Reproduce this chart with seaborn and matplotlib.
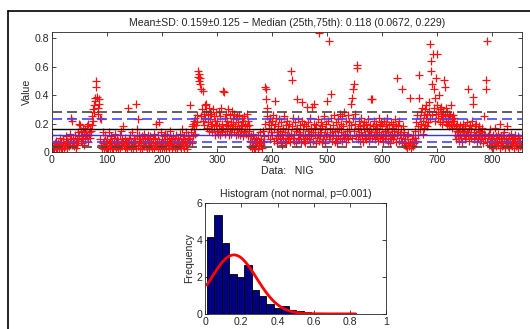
import numpy as np
import pandas as pd
import matplotlib
matplotlib.use("Agg")
import matplotlib.pyplot as plt
import seaborn as sns
from matplotlib.ticker import FuncFormatter

# values, in hundredths, 10 per row (index 0..855)
seg_a = [12,4,3,5,2,6,4,3,8,5, 3,6,2,4,10,5,3,7,4,2, 6,9,3,5,4,11,6,3,8,5,
         7,4,13,6,9,24,22,5,8,10, 4,7,12,3,6,9,5,14,8,11,
         20,19,8,15,12,6,17,10,14,5, 9,16,13,18,11,7,20,14,12,16,
         10,15,25,19,30,22,33,28,36,38, 50,46,39,31,27,37,34,24,9,23,
         5,3,14,6,2,8,4,12,3,7]
seg_b = [4,9,2,6,14,3,8,5,11,3, 7,2,10,5,4,13,6,3,9,4, 2,8,5,12,3,6,15,4,9,7,
         18,5,3,10,6,4,8,2,31,6, 9,4,12,3,7,5,14,6,2,10,
         5,8,3,34,11,16,4,23,7,12, 3,9,6,2,11,5,8,4,13,7, 10,4,2,9,6,12,3,8,5,11,
         4,7,2,10,6,3,13,5,9,4, 20,7,12,3,8,21,5,2,14,6]
seg_c = [9,4,6,11,3,8,13,5,2,7, 12,4,9,3,6,15,5,10,2,8, 4,11,7,3,9,5,12,6,2,10,
         5,8,13,4,7,3,16,6,9,4, 11,3,8,5,14,6,2,9,12,7,
         10,33,8,14,6,18,11,20,16,22, 13,24,19,26,21,53,57,55,50,52,
         48,25,44,30,22,43,27,19,33,24, 34,29,17,26,21,31,15,28,23,18,
         27,20,14,30,25,16,22,12,28,19]
seg_d = [15,22,13,28,18,12,25,16,31,20, 14,43,17,42,24,13,19,27,15,22,
         30,18,12,26,16,21,13,29,17,24, 20,14,27,18,12,23,16,25,13,21,
         17,26,12,19,15,24,18,11,22,14,
         25,16,20,13,27,18,11,22,15,19, 8,4,11,3,7,13,5,2,9,6,
         3,10,5,8,2,12,6,4,14,7, 5,9,3,15,7,11,8,20,46,44,
         37,25,31,12,21,17,9,24,14,19]
seg_e = [22,12,26,8,16,20,36,10,24,14, 6,18,11,23,9,15,7,21,13,5,
         17,10,25,8,14,19,6,12,22,9, 16,11,20,7,13,57,51,18,10,24,
         12,8,21,15,6,37,17,10,23,14,
         9,19,13,7,22,35,11,16,8,20, 12,6,18,32,10,15,21,9,13,24,
         7,17,11,32,14,8,20,34,12,16, 6,19,10,23,13,84,8,17,11,21,
         14,7,18,9,25,12,16,6,20,11]
seg_f = [36,13,22,9,78,17,11,24,41,14, 8,19,12,26,7,15,21,10,16,6,
         23,11,17,27,9,14,20,8,25,12, 18,10,28,13,7,22,15,11,26,9,
         16,21,12,34,19,38,10,44,24,48,
         15,27,20,11,61,59,17,9,22,13, 18,8,14,24,11,19,7,16,21,10,
         13,20,9,17,12,23,8,15,19,11, 37,14,10,37,18,12,22,9,16,13,
         20,11,17,8,24,14,10,19,12,21]
seg_g = [10,18,13,7,22,15,9,20,11,16, 24,8,14,19,12,6,21,10,17,13,
         9,20,15,11,23,7,18,12,52,14, 19,8,22,13,10,16,6,44,12,18,
         7,14,5,9,4,11,3,6,13,5,
         4,7,38,3,9,5,12,4,8,6, 10,15,21,8,26,18,12,54,38,24,
         16,28,20,31,13,22,26,17,30,19, 24,33,18,27,21,35,29,23,76,64,
         57,26,48,69,31,44,22,38,27,52]
seg_h = [33,69,28,24,40,30,21,27,32,25, 20,29,23,51,46,26,22,31,19,28,
         24,21,27,18,25,33,20,23,17,26, 22,19,24,12,18,9,15,20,11,14,
         17,8,13,19,10,16,7,14,20,12,
         15,9,18,11,14,21,44,13,8,17, 12,19,10,16,22,39,34,14,9,18,
         11,20,13,7,16,10,18,12,15,8, 14,9,17,11,6,13,25,10,12,51,
         44,7,78,11,5,13,8,16,9,4]
seg_i = [9,5,12,3,8,17,6,11,4,10, 7,13,5,9,3,20,6,11,8,4, 12,5,9,14,3,7,10,6,18,4,
         8,11,3,6,13,5,9,4,10,7, 3,9,6,12,4,8,5,11,3,7, 10,4,8,5,12,6]

values = np.array(seg_a + seg_b + seg_c + seg_d + seg_e + seg_f + seg_g + seg_h + seg_i) / 100.0
index = np.arange(len(values))

mean_v, sd_v = 0.159, 0.125
median_v, q25, q75 = 0.118, 0.0672, 0.229

# histogram (density) bar heights
bin_lo, bin_hi, n_bins = 0.01, 0.83, 20
bar_heights = [4.14, 5.33, 3.84, 2.16, 2.02, 2.65, 1.28, 0.95, 0.52, 0.32,
               0.40, 0.23, 0.14, 0.12, 0.05, 0.02, 0.0, 0.03, 0.05, 0.03]

df = pd.DataFrame({"idx": index, "val": values})
bw = (bin_hi - bin_lo) / n_bins
hist_df = pd.DataFrame({"center": bin_lo + bw * (np.arange(n_bins) + 0.5),
                        "height": bar_heights})

sns.set_style("ticks")
plt.rcParams["font.family"] = ["Liberation Sans", "DejaVu Sans"]
fs = 7.6

fig = plt.figure(figsize=(5.3, 3.29), dpi=100)

# top panel: data series
ax = fig.add_axes([0.098, 0.538, 0.887, 0.365])
sns.scatterplot(data=df, x="idx", y="val", marker="+", color="#ff1010", s=30,
                linewidth=0.9, ax=ax, zorder=2)
dash = (0, (6, 3))
ax.axhline(mean_v, color="black", lw=1.0, zorder=3)
ax.axhline(mean_v + sd_v, color="#444444", lw=1.2, ls=dash, zorder=3)
ax.axhline(mean_v - sd_v, color="#444444", lw=1.2, ls=dash, zorder=3)
ax.axhline(median_v, color="#3333ff", lw=1.0, zorder=3)
ax.axhline(q25, color="#4444ff", lw=1.2, ls=dash, zorder=3)
ax.axhline(q75, color="#4444ff", lw=1.2, ls=dash, zorder=3)
ax.set_xlim(0, 855)
ax.set_ylim(0, 0.845)
ax.set_xticks(range(0, 900, 100))
ax.set_yticks([0, 0.2, 0.4, 0.6, 0.8])
ax.yaxis.set_major_formatter(FuncFormatter(lambda v, p: "0" if v == 0 else f"{v:g}"))
ax.tick_params(direction="in", top=True, right=True, length=3, width=0.6, labelsize=fs, pad=2)
ax.set_xlabel("Data:   NIG", fontsize=fs, labelpad=1)
ax.set_ylabel("Value", fontsize=fs, labelpad=2)
ax.set_title("Mean\u00b1SD: 0.159\u00b10.125 \u2212 Median (25th,75th): 0.118 (0.0672, 0.229)",
             fontsize=fs, pad=4)
for s in ax.spines.values():
    s.set_linewidth(0.6)

# bottom panel: histogram with normal fit
ax2 = fig.add_axes([0.387, 0.046, 0.342, 0.337])
sns.histplot(data=hist_df, x="center", weights="height", binwidth=bw,
             binrange=(bin_lo, bin_hi), color="#000080",
             edgecolor="black", linewidth=0.6, alpha=1.0, ax=ax2)
xs = np.linspace(0.01, 0.83, 200)
pdf = np.exp(-0.5 * ((xs - mean_v) / sd_v) ** 2) / (sd_v * np.sqrt(2 * np.pi))
sns.lineplot(x=xs, y=pdf, color="red", lw=2, ax=ax2)
ax2.set_xlim(0, 1)
ax2.set_ylim(0, 6)
ax2.set_xticks([0, 0.2, 0.4, 0.6, 0.8, 1])
ax2.set_yticks([0, 2, 4, 6])
ax2.xaxis.set_major_formatter(FuncFormatter(lambda v, p: f"{v:g}"))
ax2.tick_params(direction="in", top=True, right=True, length=3, width=0.6, labelsize=fs, pad=2)
ax2.set_ylabel("Frequency", fontsize=fs, labelpad=2)
ax2.set_xlabel("")
ax2.set_title("Histogram (not normal, p=0.001)", fontsize=fs, pad=4)
for s in ax2.spines.values():
    s.set_linewidth(0.6)

# window frame from the screenshot
fig.add_artist(plt.Line2D([8 / 530, 1], [1 - 11 / 329, 1 - 11 / 329], color="black", lw=1.2))
fig.add_artist(plt.Line2D([8 / 530, 8 / 530], [0, 1 - 11 / 329], color="black", lw=1.2))

fig.savefig("out.png", dpi=100)
